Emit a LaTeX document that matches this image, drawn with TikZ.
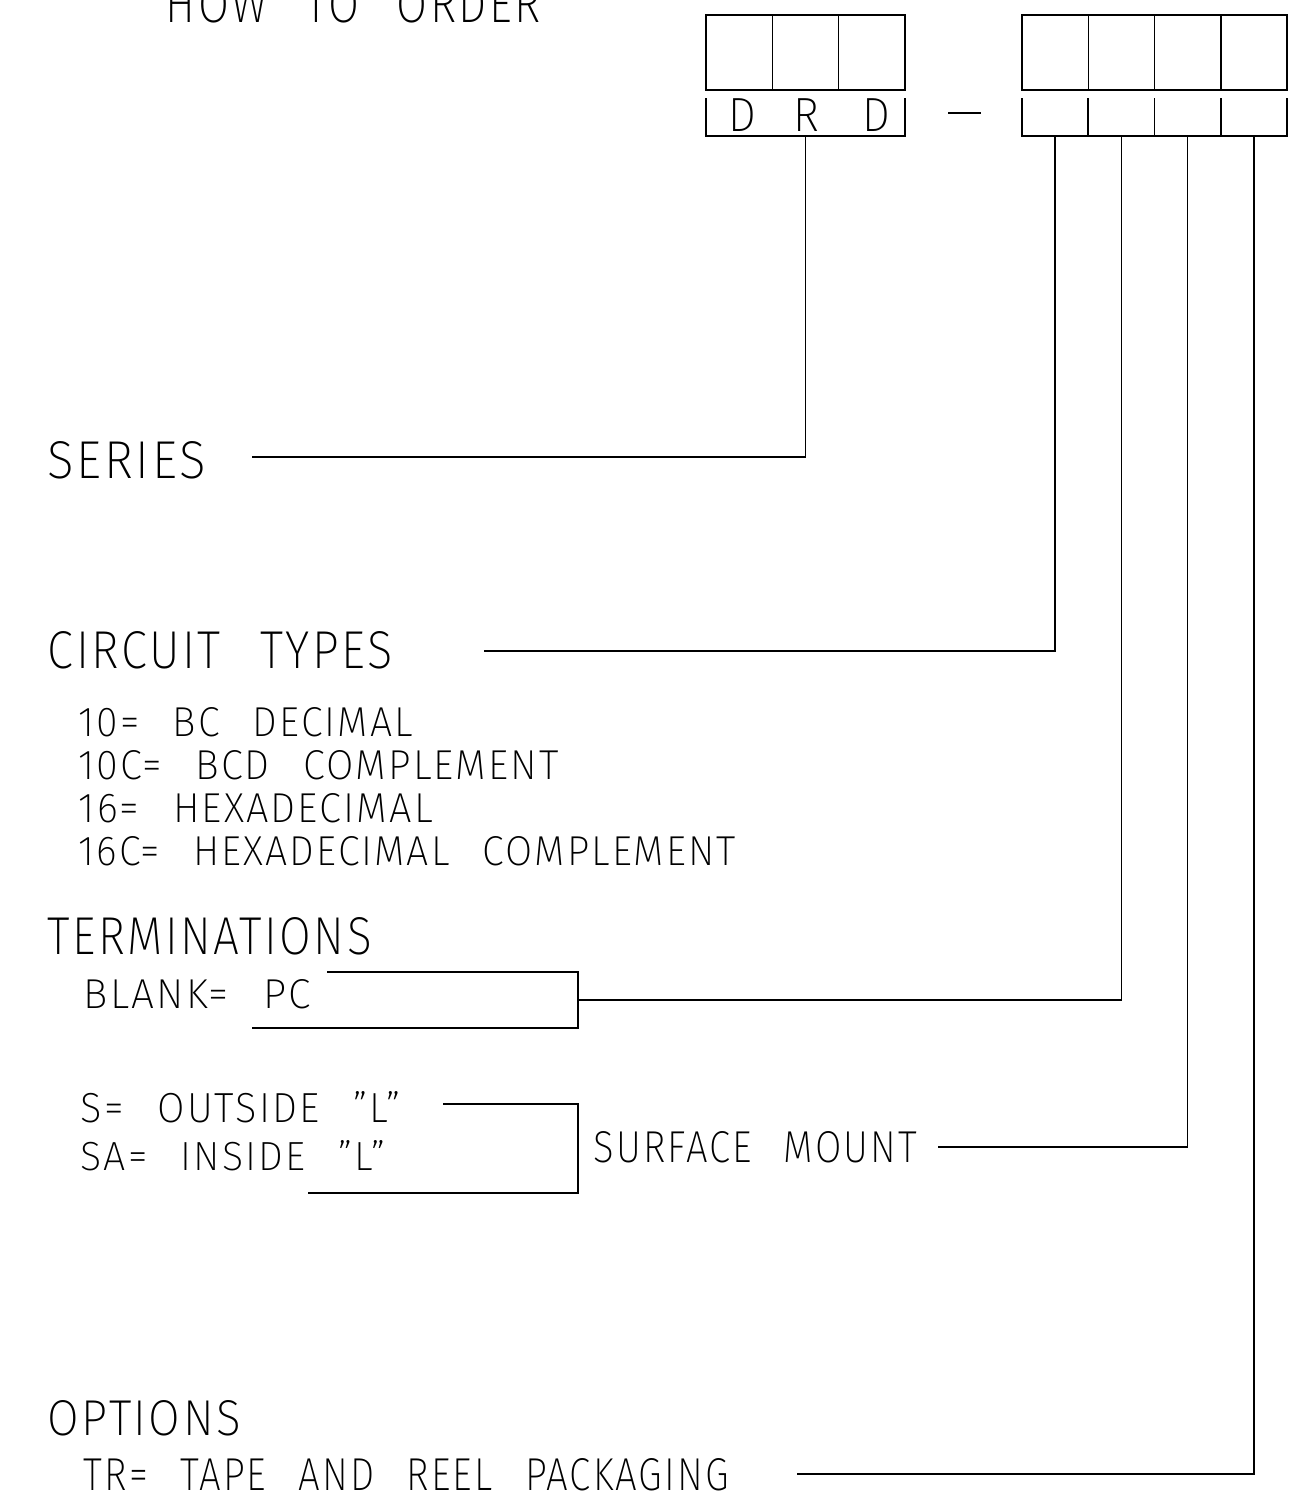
\documentclass[tikz,border=0pt]{standalone}
\usepackage{fontspec}
\IfFontExistsTF{Fira Sans ExtraLight}
  {\setmainfont{Fira Sans ExtraLight}[FakeStretch=0.92,LetterSpace=5,WordSpace=2.5]}
  {\setmainfont{Liberation Sans}[FakeStretch=0.92,LetterSpace=5,WordSpace=2.5]}
\usepackage{graphicx}
\usetikzlibrary{positioning}
% fit a label to its width and cap height
\newcommand{\cad}[3]{\resizebox{#1pt}{#2pt}{#3}}

\begin{document}
\begin{tikzpicture}[x=1pt,y=-1pt,line width=1.5pt,
    lbl/.style={anchor=base west,inner sep=0pt,font=\fontsize{50}{60}\selectfont},
    ltr/.style={anchor=base,inner sep=0pt,font=\fontsize{48}{56}\selectfont},
    cell/.style={draw,minimum width=66.3pt,minimum height=75pt,inner sep=0pt}]
    \useasboundingbox (0,0) rectangle (1303,1505);

    \node[lbl] (title) at (165,22) {\cad{375}{37}{HOW TO ORDER}};

    % code boxes
    \node[cell] (c1) at (739.2,52.5) {};
    \node[cell] (c2) at (805.5,52.5) {};
    \node[cell] (c3) at (871.8,52.5) {};
    \node[cell] (c4) at (1055.1,52.5) {};
    \node[cell] (c5) at (1121.4,52.5) {};
    \node[cell] (c6) at (1187.6,52.5) {};
    \node[cell] (c7) at (1253.9,52.5) {};

    \draw (706,98) -- (706,136) -- (905,136) -- (905,98);
    \node[ltr] (d1) at (742,131) {D};
    \node[ltr] (d2) at (806,131) {R};
    \node[ltr] (d3) at (876,131) {D};
    \draw (948,113) -- (981,113);

    \draw (1022,98) -- (1022,136) -- (1287,136) -- (1287,98);
    \draw (1088.2,98) -- (1088.2,136);
    \draw (1154.5,98) -- (1154.5,136);
    \draw (1220.8,98) -- (1220.8,136);

    % labels
    \node[lbl] (series)  at (47,478)  {\cad{158}{37}{SERIES}};
    \node[lbl] (circuit) at (47,668)  {\cad{345}{37}{CIRCUIT TYPES}};
    \node[lbl] (ct1) at (78,736) {\cad{334}{29}{10= BC DECIMAL}};
    \node[lbl] (ct2) at (78,779) {\cad{480}{29}{10C= BCD COMPLEMENT}};
    \node[lbl] (ct3) at (78,822) {\cad{354}{29}{16= HEXADECIMAL}};
    \node[lbl] (ct4) at (78,865) {\cad{657}{29}{16C= HEXADECIMAL COMPLEMENT}};
    \node[lbl] (term)    at (47,954)  {\cad{324}{37}{TERMINATIONS}};
    \node[lbl] (tm1) at (83,1008) {\cad{227}{29}{BLANK= PC}};
    \node[lbl] (tm2) at (80,1122) {\cad{320}{31}{S= OUTSIDE ”L”}};
    \node[lbl] (tm3) at (80,1170) {\cad{305}{30}{SA= INSIDE ”L”}};
    \node[lbl] (smt)     at (593,1162) {\cad{323}{31}{SURFACE MOUNT}};
    \node[lbl] (opt)     at (47,1435) {\cad{193}{35}{OPTIONS}};
    \node[lbl] (op1) at (83,1490) {\cad{645}{32}{TR= TAPE AND REEL PACKAGING}};

    % brackets
    \draw (327,972) -- (578,972) -- (578,1028) -- (252,1028);
    \draw (443,1104) -- (578,1104) -- (578,1193) -- (308,1193);

    % leader lines
    \coordinate (t0) at (805.5,136);
    \coordinate (t1) at (1055.1,136);
    \coordinate (t2) at (1121.4,136);
    \coordinate (t3) at (1187.6,136);
    \coordinate (t4) at (1253.9,136);
    \coordinate (e0) at (252,457);
    \coordinate (e1) at (484,651);
    \coordinate (e2) at (578,1000);
    \coordinate (e3) at (938,1147);
    \coordinate (e4) at (797,1474);
    \draw (t0) |- (e0);
    \draw (t1) |- (e1);
    \draw (t2) |- (e2);
    \draw (t3) |- (e3);
    \draw (t4) |- (e4);
\end{tikzpicture}
\end{document}
